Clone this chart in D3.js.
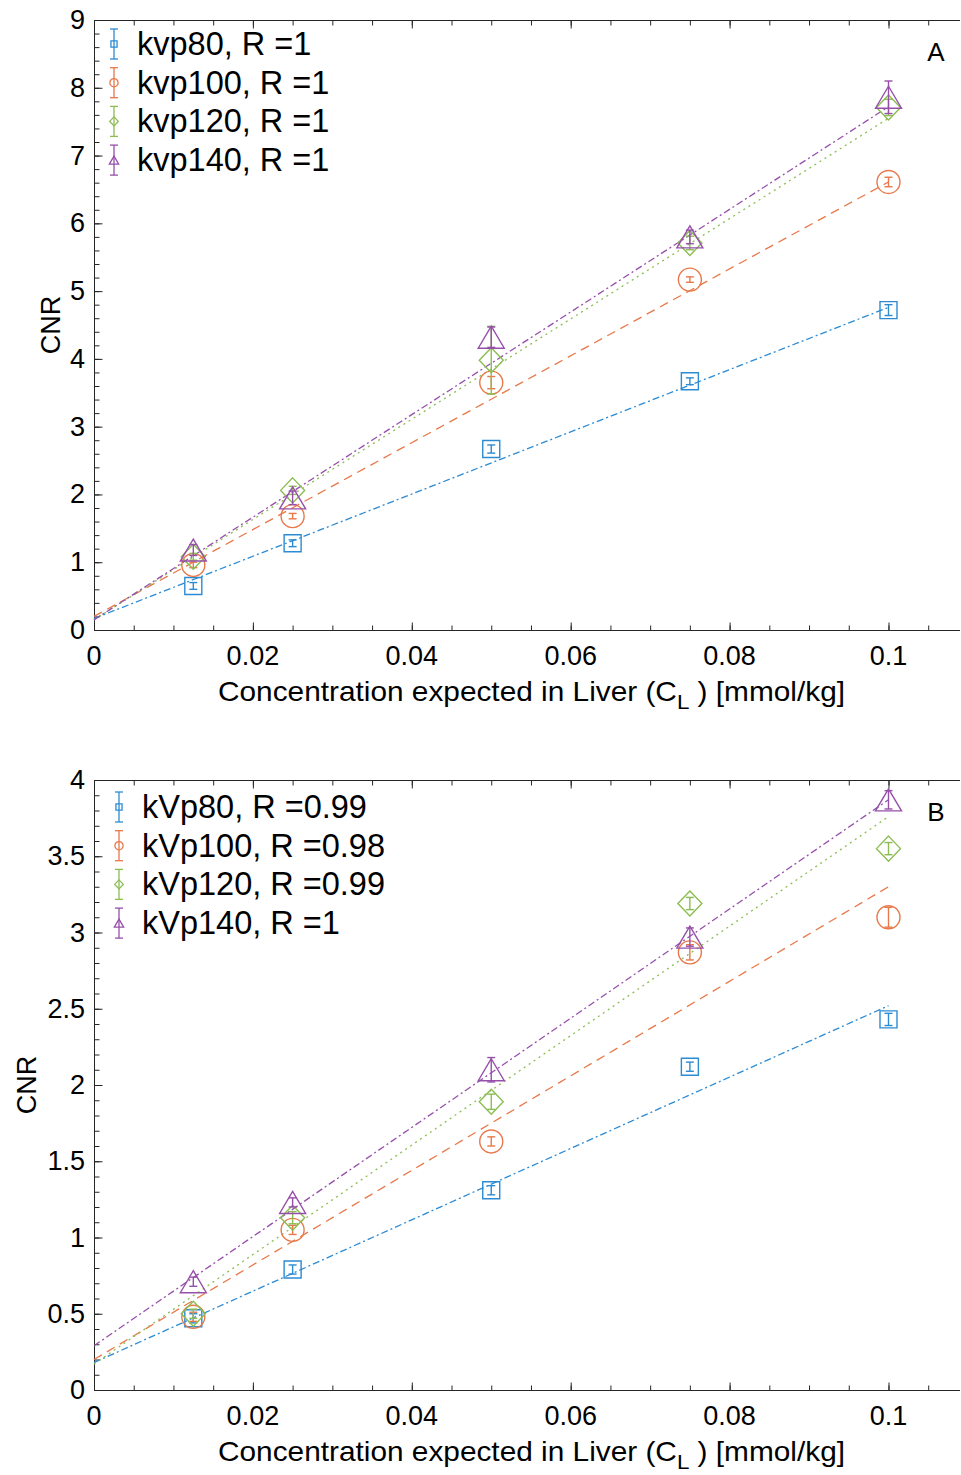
<!DOCTYPE html>
<html><head><meta charset="utf-8">
<script src="https://cdn.jsdelivr.net/npm/d3@7"></script>
<style>body{margin:0;background:#fff}svg{display:block}text{font-family:"Liberation Sans",Arial,sans-serif;fill:#000}</style>
</head><body>
<script>
// ---------- data ----------
const concentrations = [0.0125, 0.025, 0.05, 0.075, 0.1];
const xTicks = [0, 0.02, 0.04, 0.06, 0.08, 0.1];
const yTicksA = [0,1,2,3,4,5,6,7,8,9];
const yTicksB = [0,0.5,1,1.5,2,2.5,3,3.5,4];
const seriesNamesA = ["kvp80, R =1","kvp100, R =1","kvp120, R =1","kvp140, R =1"];
const seriesNamesB = ["kVp80, R =0.99","kVp100, R =0.98","kVp120, R =0.99","kVp140, R =1"];
// panel A values and errors
const a80  = [0.65, 1.28, 2.67, 3.67, 4.72];
const a100 = [0.96, 1.68, 3.65, 5.17, 6.61];
const a120 = [1.08, 2.06, 3.98, 5.71, 7.71];
const a140 = [1.18, 1.95, 4.32, 5.80, 7.86];
const aErr80  = [0.05, 0.05, 0.06, 0.05, 0.08];
const aErr100 = [0.04, 0.04, 0.09, 0.04, 0.07];
const aErr120 = [0.05, 0.06, 0.50, 0.10, 0.12];
const aErr140 = [0.08, 0.10, 0.15, 0.10, 0.24];
const aFitIntercept = [0.17, 0.20, 0.15, 0.15];
const aFitSlope     = [45.9, 64.1, 74.0, 75.7];
// panel B values and errors
const b80  = [0.47, 0.79, 1.31, 2.12, 2.43];
const b100 = [0.48, 1.05, 1.63, 2.87, 3.10];
const b120 = [0.50, 1.13, 1.89, 3.19, 3.55];
const b140 = [0.71, 1.23, 2.10, 2.97, 3.87];
const bErr80  = [0.03, 0.03, 0.03, 0.03, 0.04];
const bErr100 = [0.03, 0.03, 0.03, 0.05, 0.065];
const bErr120 = [0.03, 0.04, 0.05, 0.04, 0.04];
const bErr140 = [0.03, 0.03, 0.08, 0.06, 0.06];
const bFitIntercept = [0.18, 0.20, 0.17, 0.29];
const bFitSlope     = [23.4, 31.0, 35.9, 35.8];

// ---------- style ----------
const colors = ["#2c8bd2", "#e8784a", "#8bbd52", "#9650aa"];
const markers = ["square","circle","diamond","triangle"];
const dashes = ["7,3,2,3", "9,6", "2,4", "7,3,2,3"];
const axisColor = "#262626";

const W = 961, H = 1475;
const svg = d3.select("body").append("svg").attr("width", W).attr("height", H);

function markerPath(type, s) {
  const p = d3.path();
  if (type === "square") { const h = 8.5*s; p.rect(-h,-h,2*h,2*h); }
  else if (type === "circle") { const r = 11.5*s; p.moveTo(r,0); p.arc(0,0,r,0,2*Math.PI); }
  else if (type === "diamond") { const w = 12*s, h = 12.5*s; p.moveTo(0,-h); p.lineTo(w,0); p.lineTo(0,h); p.lineTo(-w,0); p.closePath(); }
  else { const w = 13*s, h = 11*s; p.moveTo(0,-h); p.lineTo(w,h); p.lineTo(-w,h); p.closePath(); }
  return p.toString();
}

function drawPanel(cfg) {
  const x = d3.scaleLinear().domain([0, 0.109]).range([94, 960]);
  const y = d3.scaleLinear().domain([0, cfg.yMax]).range([cfg.y0, cfg.yTop]);
  const g = svg.append("g");
  const top = cfg.yTop, bot = cfg.y0, left = 94, right = 960;

  g.append("line").attr("x1",left).attr("x2",right).attr("y1",bot+0.5).attr("y2",bot+0.5).attr("stroke",axisColor);
  g.append("line").attr("x1",left).attr("x2",right).attr("y1",top+0.5).attr("y2",top+0.5).attr("stroke",axisColor);
  g.append("line").attr("x1",left+0.5).attr("x2",left+0.5).attr("y1",top).attr("y2",bot).attr("stroke",axisColor);

  const xMinor = d3.range(0, 0.1051, 0.005);
  g.append("g").attr("transform",`translate(0,${bot+0.5})`).call(d3.axisBottom(x).tickValues(xTicks).tickSize(-8).tickFormat("")).call(s=>s.select(".domain").remove());
  g.append("g").attr("transform",`translate(0,${bot+0.5})`).call(d3.axisBottom(x).tickValues(xMinor).tickSize(-5).tickFormat("")).call(s=>s.select(".domain").remove());
  g.append("g").attr("transform",`translate(0,${top+0.5})`).call(d3.axisTop(x).tickValues(xTicks).tickSize(-8).tickFormat("")).call(s=>s.select(".domain").remove());
  g.append("g").attr("transform",`translate(0,${top+0.5})`).call(d3.axisTop(x).tickValues(xMinor).tickSize(-5).tickFormat("")).call(s=>s.select(".domain").remove());
  const yMinor = d3.range(0, cfg.yMax + 1e-9, cfg.yMinorStep);
  g.append("g").attr("transform",`translate(${left+0.5},0)`).call(d3.axisLeft(y).tickValues(cfg.yTicks).tickSize(-8).tickFormat("")).call(s=>s.select(".domain").remove());
  g.append("g").attr("transform",`translate(${left+0.5},0)`).call(d3.axisLeft(y).tickValues(yMinor).tickSize(-5).tickFormat("")).call(s=>s.select(".domain").remove());
  g.selectAll(".tick line").attr("stroke",axisColor);

  g.selectAll(".xl").data(xTicks).join("text").attr("x",d=>x(d)).attr("y",bot+35)
    .attr("text-anchor","middle").attr("font-size",27).text(d=>d===0?"0":String(d));
  g.selectAll(".yl").data(cfg.yTicks).join("text").attr("x",85).attr("y",d=>y(d)+9)
    .attr("text-anchor","end").attr("font-size",27).text(d=>String(d));

  const xl = g.append("text").attr("x",218).attr("y",bot+71).attr("font-size",28)
    .attr("textLength",627).attr("lengthAdjust","spacingAndGlyphs");
  xl.append("tspan").text("Concentration expected in Liver (C");
  xl.append("tspan").attr("font-size",21).attr("dy",8).text("L");
  xl.append("tspan").attr("dy",-8).text(" ) [mmol/kg]");
  g.append("text").attr("transform",`translate(${cfg.yLabelX},${(top+bot)/2}) rotate(-90)`)
    .attr("text-anchor","middle").attr("font-size",27).text("CNR");
  g.append("text").attr("x",936).attr("y",top+41).attr("text-anchor","middle").attr("font-size",26).text(cfg.panel);

  cfg.intercepts.forEach((b,i)=>{
    const line = d3.line().x(d=>x(d)).y(d=>y(b + cfg.slopes[i]*d));
    g.append("path").datum([0, 0.1]).attr("d", line).attr("fill","none")
      .attr("stroke",colors[i]).attr("stroke-width",1.3).attr("stroke-dasharray",dashes[i]);
  });

  cfg.values.forEach((vals,i)=>{
    const sg = g.append("g").attr("stroke",colors[i]).attr("fill","none").attr("stroke-width",1.4);
    vals.forEach((v,j)=>{
      const cx = x(concentrations[j]);
      const e = cfg.errors[i][j];
      sg.append("path").attr("d", markerPath(markers[i],1)).attr("transform",`translate(${cx},${y(v)})`);
      sg.append("line").attr("x1",cx).attr("x2",cx).attr("y1",y(v-e)).attr("y2",y(v+e));
      sg.append("line").attr("x1",cx-4).attr("x2",cx+4).attr("y1",y(v-e)).attr("y2",y(v-e));
      sg.append("line").attr("x1",cx-4).attr("x2",cx+4).attr("y1",y(v+e)).attr("y2",y(v+e));
    });
  });

  cfg.names.forEach((name,i)=>{
    const ly = cfg.legendY + i*38.7;
    const lx = cfg.legendX;
    const lg = g.append("g").attr("stroke",colors[i]).attr("fill","none").attr("stroke-width",1.3);
    lg.append("line").attr("x1",lx).attr("x2",lx).attr("y1",ly-15).attr("y2",ly+15);
    lg.append("line").attr("x1",lx-4).attr("x2",lx+4).attr("y1",ly-15).attr("y2",ly-15);
    lg.append("line").attr("x1",lx-4).attr("x2",lx+4).attr("y1",ly+15).attr("y2",ly+15);
    lg.append("path").attr("d", markerPath(markers[i],0.36)).attr("transform",`translate(${lx},${ly})`);
    g.append("text").attr("x",lx+23).attr("y",ly+11).attr("font-size",32.5).text(name);
  });
}

drawPanel({panel:"A", y0:630, yTop:20, yMax:9, yTicks:yTicksA, yMinorStep:0.2, yLabelX:60,
  values:[a80,a100,a120,a140], errors:[aErr80,aErr100,aErr120,aErr140],
  intercepts:aFitIntercept, slopes:aFitSlope, names:seriesNamesA, legendX:114, legendY:44});
drawPanel({panel:"B", y0:1390, yTop:780, yMax:4, yTicks:yTicksB, yMinorStep:0.1, yLabelX:36,
  values:[b80,b100,b120,b140], errors:[bErr80,bErr100,bErr120,bErr140],
  intercepts:bFitIntercept, slopes:bFitSlope, names:seriesNamesB, legendX:119, legendY:807});
</script>
</body></html>
